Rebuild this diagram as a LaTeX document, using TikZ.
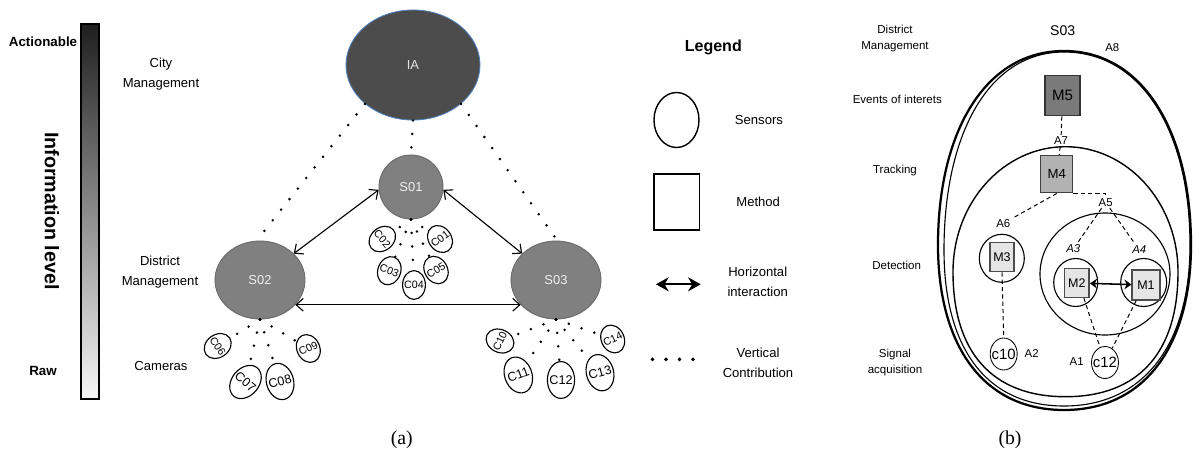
\documentclass[tikz,border=0pt]{standalone}
\usepackage{fontspec}
\setmainfont{Liberation Sans}
\newfontfamily\capfont{Liberation Serif}
\usepackage{tikz}
\usetikzlibrary{shapes,arrows.meta,positioning}

\definecolor{iaborder}{RGB}{79,129,189}

\begin{document}
\begin{tikzpicture}[x=0.025cm, y=-0.025cm, thick]
    % Stili
    \tikzstyle{lbl}=[align=center, font=\fontsize{9.3}{14.2}\selectfont]
    \tikzstyle{lblsmall}=[align=center, font=\fontsize{8.2}{11.6}\selectfont]
    \tikzstyle{area}=[inner sep=1pt, font=\fontsize{8.1}{9}\selectfont]
    \tikzstyle{server}=[ellipse, fill=black!50, draw=black!60, line width=0.6pt, text=black!6, font=\fontsize{9.2}{11}\selectfont, minimum width=2.25cm, minimum height=1.95cm]
    \tikzstyle{cam}=[ellipse, draw, line width=0.8pt, inner xsep=-2pt, inner ysep=1pt, minimum width=0.57cm, minimum height=0.72cm, font=\fontsize{7.6}{8}\selectfont]
    \tikzstyle{bigcam}=[cam, minimum width=0.68cm, minimum height=0.92cm, font=\fontsize{9}{10}\selectfont]
    \tikzstyle{sensor}=[ellipse, draw, line width=0.6pt, inner xsep=-2pt, minimum width=0.675cm, minimum height=0.8cm, font=\fontsize{10.6}{12}\selectfont]
    \tikzstyle{method}=[rectangle, draw=black!70, line width=1.1pt, fill=black!10, inner sep=0pt, minimum width=0.62cm, minimum height=0.72cm, font=\fontsize{8.9}{10}\selectfont]
    \tikzstyle{vdots}=[line width=2pt, line cap=round, dash pattern=on 0pt off 9.6pt]
    \tikzstyle{harrow}=[{Straight Barb[length=5pt,width=9pt]}-{Straight Barb[length=5pt,width=9pt]}, line width=0.8pt]
    \tikzstyle{mdash}=[line width=0.7pt, dash pattern=on 3pt off 2.2pt]

    \useasboundingbox (0,0) rectangle (1193,454);

    % Barra livello informazione
    \shade[top color=black!88, bottom color=black!3] (81,24) rectangle (99,399);
    \draw[line width=1.1pt] (81,24) rectangle (99,399);
    \node[font=\bfseries\fontsize{9.5}{11}\selectfont] (actlbl) at (43,42) {Actionable};
    \node[font=\bfseries\fontsize{9.5}{11}\selectfont] (rawlbl) at (43,371) {Raw};
    \node[rotate=-90, font=\bfseries\fontsize{14}{16}\selectfont] (infolbl) at (52,211) {Information level};

    % Livelli
    \node[lbl] (citylbl) at (161,74) {City\\Management};
    \node[lbl] (distlbl) at (160,272) {District\\Management};
    \node[lbl] (camlbl) at (161,366) {Cameras};

    % Nodi
    \node[server, fill=black!70, draw=iaborder, minimum width=3.35cm, minimum height=2.75cm, text=black!10] (IA) at (413,65) {IA};
    \node[server, circle, minimum size=1.6cm] (S01) at (411,187) {S01};
    \node[server] (S02) at (260,280) {S02};
    \node[server] (S03) at (556,280) {S03};

    % Telecamere
    \node[cam, rotate=35] (C01) at (440,239) {C01};
    \node[cam, rotate=-50] (C02) at (382.3,239) {C02};
    \node[cam, rotate=-20] (C03) at (389.3,270.7) {C03};
    \node[cam] (C04) at (414,285) {C04};
    \node[cam, rotate=30] (C05) at (436,270) {C05};
    \node[cam, rotate=-55] (C06) at (217.7,346) {C06};
    \node[bigcam, rotate=-40] (C07) at (245.5,382) {C07};
    \node[bigcam, rotate=15] (C08) at (280,381.5) {C08};
    \node[cam, rotate=25] (C09) at (308.3,348.5) {C09};
    \node[cam, rotate=65] (C10) at (500,341) {C10};
    \node[bigcam, rotate=20] (C11) at (518.3,375) {C11};
    \node[bigcam] (C12) at (561,380) {C12};
    \node[bigcam, rotate=15] (C13) at (600,372.7) {C13};
    \node[cam, rotate=25] (C14) at (612.7,339) {C14};

    % Collegamenti
    \draw[vdots] (IA.219) -- (S02.95);
    \draw[vdots] (IA.south) -- (S01.north);
    \draw[vdots] (IA.321) -- (S03.88);
    \draw[harrow] (S01.185) -- (S02.38);
    \draw[harrow] (S01.355) -- (S03.142);
    \draw[harrow] (S02.-35) -- (S03.215);

    \draw[vdots] (S01.south) -- (C01);
    \draw[vdots] (S01.south) -- (C02);
    \draw[vdots] (S01.south) -- (C03);
    \draw[vdots] (S01.south) -- (C04);
    \draw[vdots] (S01.south) -- (C05);
    \draw[vdots] (S02.south) -- (C06);
    \draw[vdots] (S02.south) -- (C07);
    \draw[vdots] (S02.south) -- (C08);
    \draw[vdots] (S02.south) -- (C09);
    \draw[vdots] (S03.south) -- (C10);
    \draw[vdots] (S03.south) -- (C11);
    \draw[vdots] (S03.south) -- (C12);
    \draw[vdots] (S03.south) -- (C13);
    \draw[vdots] (S03.south) -- (C14);

    % Legenda
    \node[font=\bfseries\fontsize{11.4}{13}\selectfont] (legtitle) at (713.3,47.7) {Legend};
    \node[ellipse, draw, line width=1pt, minimum width=1.125cm, minimum height=1.375cm] (legsens) at (676.5,120) {};
    \node[lbl, right=0.75cm of legsens] (legsenslbl) {Sensors};
    \node[rectangle, draw, line width=1pt, minimum width=1.125cm, minimum height=1.4cm] (legmeth) at (676.7,202) {};
    \node[lbl, right=0.78cm of legmeth] (legmethlbl) {Method};
    \coordinate (legharL) at (656,284.3);
    \coordinate (legharR) at (700.7,284.3);
    \draw[{Stealth[length=9pt,width=10pt]}-{Stealth[length=9pt,width=10pt]}, line width=1.4pt] (legharL) -- (legharR);
    \node[lbl, right=0.54cm of legharR, yshift=0.05cm] (leghorlbl) {Horizontal\\interaction};
    \coordinate (legvdL) at (652.5,359.3);
    \coordinate (legvdR) at (693.5,359.3);
    \draw[vdots, line width=2.8pt] (legvdL) -- (legvdR);
    \node[lbl, right=0.6cm of legvdR, yshift=-0.09cm] (legverlbl) {Vertical\\Contribution};

    % Dettaglio S03
    \node[lblsmall] (s3dist) at (895,38.7) {District\\Management};
    \node[lblsmall] (s3event) at (897.3,99.3) {Events of interets};
    \node[lblsmall] (s3track) at (895,170.7) {Tracking};
    \node[lblsmall] (s3detect) at (896.7,265.7) {Detection};
    \node[lblsmall] (s3signal) at (895,362.3) {Signal\\acquisition};
    \node[font=\fontsize{10}{12}\selectfont] (s3title) at (1062.7,30.7) {S03};

    % Aree
    \draw[line width=1.6pt] (1064,51) .. controls (985,51) and (938,132) .. (938,245)
        .. controls (938,344) and (982,410) .. (1064,410)
        .. controls (1146,410) and (1191,344) .. (1191,245)
        .. controls (1191,132) and (1143,51) .. (1064,51) -- cycle;
    \draw[line width=0.8pt] (1064,52) .. controls (988,52) and (944,135) .. (944,250)
        .. controls (944,345) and (984,406) .. (1064,406)
        .. controls (1144,406) and (1190,344) .. (1190,245)
        .. controls (1190,132) and (1142,52) .. (1064,52) -- cycle;
    \draw[line width=1pt] (1065.5,146.7) .. controls (1004,146.7) and (953,202) .. (953,272)
        .. controls (953,352) and (992,396.7) .. (1065.5,396.7)
        .. controls (1139,396.7) and (1178,352) .. (1178,272)
        .. controls (1178,202) and (1127,146.7) .. (1065.5,146.7) -- cycle;
    \draw[line width=0.8pt] (1105,274) ellipse [x radius=65, y radius=61];
    \draw[line width=0.8pt] (1075.7,282.5) ellipse [x radius=22, y radius=24];
    \draw[line width=0.8pt] (1143.7,282.5) ellipse [x radius=23, y radius=24];
    \draw[line width=0.8pt] (1001.8,258.3) ellipse [x radius=22.5, y radius=24];

    % Metodi e sensori
    \node[method, fill=black!52, draw=black!80, minimum width=0.875cm, minimum height=1cm, font=\fontsize{10.7}{12}\selectfont] (M5) at (1062.5,95.7) {M5};
    \node[method, fill=black!30, draw=black!75, minimum width=0.8cm, minimum height=0.925cm, font=\fontsize{9.4}{11}\selectfont] (M4) at (1056.7,174.2) {M4};
    \node[method, minimum width=0.6cm, minimum height=0.73cm] (M3) at (1002,257) {M3};
    \node[method] (M2) at (1076.8,283) {M2};
    \node[method, minimum width=0.69cm, minimum height=0.75cm] (M1) at (1146,285) {M1};
    \node[sensor] (c10) at (1003.7,354) {c10};
    \node[sensor] (c12) at (1105,362.5) {c12};

    \node[area] (lblA8) at (1112.3,47.7) {A8};
    \node[area] (lblA7) at (1061,140.7) {A7};
    \node[area] (lblA6) at (1003.3,223.3) {A6};
    \node[area] (lblA5) at (1105.7,202.3) {A5};
    \node[area, font=\itshape\fontsize{8.1}{9}\selectfont] (lblA3) at (1073.3,249) {A3};
    \node[area, font=\itshape\fontsize{8.1}{9}\selectfont] (lblA4) at (1139.3,250) {A4};
    \node[area] (lblA2) at (1031.7,353.3) {A2};
    \node[area] (lblA1) at (1076.7,361.7) {A1};

    \draw[mdash] (M5) -- (lblA7);
    \draw[mdash] (lblA7) -- (M4);
    \draw[mdash] (M4.south) -- (lblA6);
    \draw[mdash] (M4.south east) -| (lblA5);
    \draw[mdash] (lblA5) -- (lblA3);
    \draw[mdash] (lblA5) -- (lblA4);
    \draw[mdash] (M3.south) -- (c10.north);
    \draw[mdash] (M2.-65) -- (c12);
    \draw[mdash] (M1.238) -- (c12);
    \draw[{Stealth[length=5pt,width=7pt]}-{Stealth[length=5pt,width=7pt]}, line width=1.1pt] (M2) -- (M1);

    % Didascalie
    \node[font=\capfont\fontsize{14}{16}\selectfont] (capa) at (401.7,440) {(a)};
    \node[font=\capfont\fontsize{14}{16}\selectfont] (capb) at (1010,440) {(b)};
\end{tikzpicture}
\end{document}
